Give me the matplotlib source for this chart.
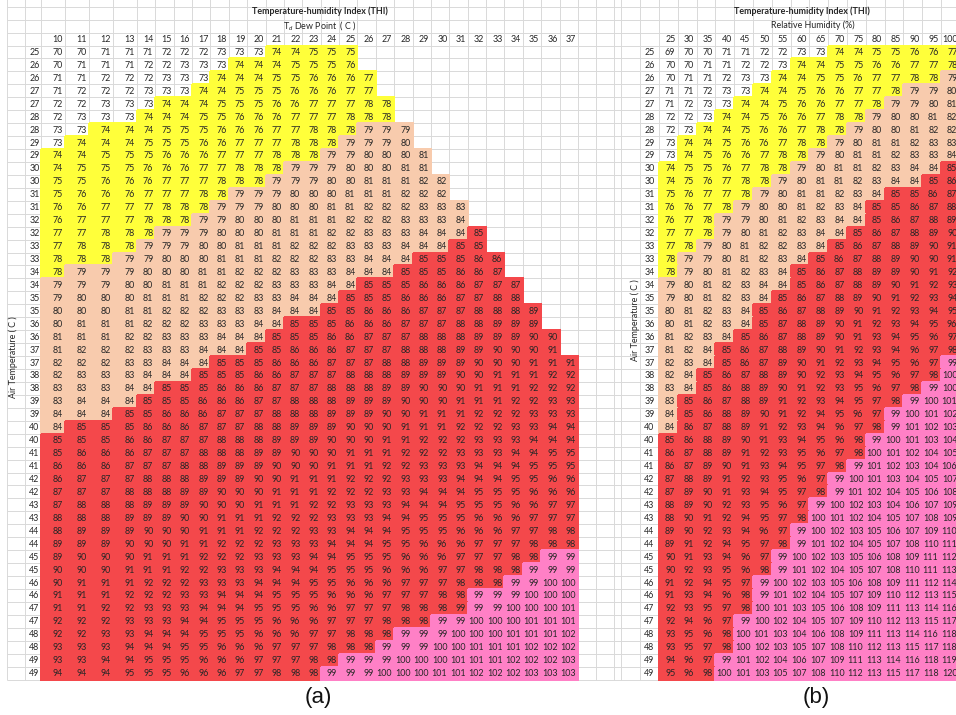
"""
Temperature-humidity index tables: (a) air temperature vs dew point,
(b) air temperature vs relative humidity, drawn as shaded spreadsheet grids.
"""
import numpy as np
import matplotlib
matplotlib.use('Agg')
import matplotlib.pyplot as plt
from matplotlib.colors import ListedColormap, BoundaryNorm

plt.rcParams['font.family'] = ['Lato', 'DejaVu Sans']
plt.rcParams['mathtext.fontset'] = 'custom'
plt.rcParams['mathtext.rm'] = 'Lato'
plt.rcParams['mathtext.it'] = 'Lato:italic'

# ---- data -------------------------------------------------------------
AIR_TEMP_LABELS = [25, 26, 26, 27, 27, 28, 28, 29, 29, 30, 30, 31, 31, 32, 32,
                   33, 33, 34, 34, 35, 35, 36, 36, 37, 37, 38, 38, 39, 39, 40,
                   40, 41, 41, 42, 42, 43, 43, 44, 44, 45, 45, 46, 46, 47, 47,
                   48, 48, 49, 49]
DEW_POINTS = [10, 11, 12, 13, 14, 15, 16, 17, 18, 19, 20, 21, 22, 23, 24, 25,
              26, 27, 28, 29, 30, 31, 32, 33, 34, 35, 36, 37]
REL_HUMIDITY = [25, 30, 35, 40, 45, 50, 55, 60, 65, 70, 75, 80, 85, 90, 95, 100]

# (a) THI by dew point, one string per table row (blank cells are left off)
THI_DEW = [
    "70 70 71 71 71 72 72 72 73 73 73 74 74 75 75 75",
    "70 71 71 71 72 72 73 73 73 74 74 74 75 75 75 76",
    "71 71 72 72 72 73 73 73 74 74 74 75 75 76 76 76 77",
    "71 72 72 72 73 73 73 74 74 75 75 75 76 76 76 77 77",
    "72 72 73 73 73 74 74 74 75 75 75 76 76 77 77 77 78 78",
    "72 73 73 73 74 74 74 75 75 76 76 76 77 77 77 78 78 78",
    "73 73 74 74 74 75 75 75 76 76 76 77 77 78 78 78 79 79 79",
    "73 74 74 74 75 75 75 76 76 77 77 77 78 78 78 79 79 79 80",
    "74 74 75 75 75 76 76 76 77 77 77 78 78 78 79 79 80 80 80 81",
    "74 75 75 75 76 76 76 77 77 78 78 78 79 79 79 80 80 80 81 81",
    "75 75 76 76 76 77 77 77 78 78 78 79 79 79 80 80 81 81 81 82 82",
    "75 76 76 76 77 77 77 78 78 79 79 79 80 80 80 81 81 81 82 82 82",
    "76 76 77 77 77 78 78 78 79 79 79 80 80 80 81 81 82 82 82 83 83 83",
    "76 77 77 77 78 78 78 79 79 80 80 80 81 81 81 82 82 82 83 83 83 84",
    "77 77 78 78 78 79 79 79 80 80 80 81 81 81 82 82 83 83 83 84 84 84 85",
    "77 78 78 78 79 79 79 80 80 81 81 81 82 82 82 83 83 83 84 84 84 85 85",
    "78 78 78 79 79 80 80 80 81 81 81 82 82 82 83 83 84 84 84 85 85 85 86 86",
    "78 79 79 79 80 80 80 81 81 82 82 82 83 83 83 84 84 84 85 85 85 86 86 87",
    "79 79 79 80 80 81 81 81 82 82 82 83 83 83 84 84 85 85 85 86 86 86 87 87 87",
    "79 80 80 80 81 81 81 82 82 82 83 83 84 84 84 85 85 85 86 86 86 87 87 88 88",
    "80 80 80 81 81 82 82 82 83 83 83 84 84 84 85 85 86 86 86 87 87 87 88 88 88 89",
    "80 81 81 81 82 82 82 83 83 83 84 84 85 85 85 86 86 86 87 87 87 88 88 89 89 89",
    "81 81 81 82 82 83 83 83 84 84 84 85 85 85 86 86 87 87 87 88 88 88 89 89 89 90 90",
    "81 82 82 82 83 83 83 84 84 84 85 85 86 86 86 87 87 87 88 88 88 89 89 90 90 90 91",
    "82 82 82 83 83 84 84 84 85 85 85 86 86 86 87 87 87 88 88 89 89 89 90 90 90 91 91 91",
    "82 83 83 83 84 84 84 85 85 85 86 86 87 87 87 88 88 88 89 89 89 90 90 91 91 91 92 92",
    "83 83 83 84 84 85 85 85 86 86 86 87 87 87 88 88 88 89 89 90 90 90 91 91 91 92 92 92",
    "83 84 84 84 85 85 85 86 86 86 87 87 88 88 88 89 89 89 90 90 90 91 91 91 92 92 93 93",
    "84 84 84 85 85 86 86 86 87 87 87 88 88 88 89 89 89 90 90 91 91 91 92 92 92 93 93 93",
    "84 85 85 85 86 86 86 87 87 87 88 88 89 89 89 90 90 90 91 91 91 92 92 92 93 93 94 94",
    "85 85 85 86 86 87 87 87 88 88 88 89 89 89 90 90 90 91 91 92 92 92 93 93 93 94 94 94",
    "85 86 86 86 87 87 87 88 88 88 89 89 90 90 90 91 91 91 92 92 92 93 93 93 94 94 95 95",
    "86 86 86 87 87 87 88 88 89 89 89 90 90 90 91 91 91 92 92 93 93 93 94 94 94 95 95 95",
    "86 87 87 87 88 88 88 89 89 89 90 90 91 91 91 92 92 92 93 93 93 94 94 94 95 95 96 96",
    "87 87 87 88 88 88 89 89 90 90 90 91 91 91 92 92 92 93 93 94 94 94 95 95 95 96 96 96",
    "87 88 88 88 89 89 89 90 90 90 91 91 91 92 92 93 93 93 94 94 94 95 95 95 96 96 97 97",
    "88 88 88 89 89 89 90 90 91 91 91 92 92 92 93 93 93 94 94 95 95 95 96 96 96 97 97 97",
    "88 89 89 89 90 90 90 91 91 91 92 92 92 93 93 94 94 94 95 95 95 96 96 96 97 97 98 98",
    "89 89 89 90 90 90 91 91 92 92 92 93 93 93 94 94 94 95 95 96 96 96 97 97 97 98 98 98",
    "89 90 90 90 91 91 91 92 92 92 93 93 93 94 94 95 95 95 96 96 96 97 97 97 98 98 99 99",
    "90 90 90 91 91 91 92 92 93 93 93 94 94 94 95 95 95 96 96 96 97 97 98 98 98 99 99 99",
    "90 91 91 91 92 92 92 93 93 93 94 94 94 95 95 96 96 96 97 97 97 98 98 98 99 99 100 100",
    "91 91 91 92 92 92 93 93 94 94 94 95 95 95 96 96 96 97 97 97 98 98 99 99 99 100 100 100",
    "91 91 92 92 93 93 93 94 94 94 95 95 95 96 96 97 97 97 98 98 98 99 99 99 100 100 100 101",
    "92 92 92 93 93 93 94 94 95 95 95 96 96 96 97 97 97 98 98 98 99 99 100 100 100 101 101 101",
    "92 92 93 93 94 94 94 95 95 95 96 96 96 97 97 98 98 98 99 99 99 100 100 100 101 101 101 102",
    "93 93 93 94 94 94 95 95 96 96 96 97 97 97 98 98 98 99 99 99 100 100 101 101 101 102 102 102",
    "93 93 94 94 95 95 95 96 96 96 97 97 97 98 98 99 99 99 100 100 100 101 101 101 102 102 102 103",
    "94 94 94 95 95 95 96 96 96 97 97 98 98 98 99 99 99 100 100 100 101 101 102 102 102 103 103 103",
]

# (b) THI by relative humidity
THI_RH = [
    "69 70 70 71 71 72 72 73 73 74 74 75 75 76 76 77",
    "70 70 71 71 72 72 73 74 74 75 75 76 76 77 77 78",
    "70 71 71 72 73 73 74 74 75 75 76 77 77 78 78 79",
    "71 71 72 73 73 74 74 75 76 76 77 77 78 79 79 80",
    "71 72 73 73 74 74 75 76 76 77 77 78 79 79 80 81",
    "72 72 73 74 74 75 76 76 77 78 78 79 80 80 81 82",
    "72 73 74 74 75 76 76 77 78 78 79 80 80 81 82 82",
    "73 74 74 75 76 76 77 78 78 79 80 81 81 82 83 83",
    "73 74 75 76 76 77 78 78 79 80 81 81 82 83 83 84",
    "74 75 75 76 77 78 78 79 80 81 81 82 83 84 84 85",
    "74 75 76 77 78 78 79 80 81 81 82 83 84 84 85 86",
    "75 76 77 77 78 79 80 81 81 82 83 84 85 85 86 87",
    "76 76 77 78 79 80 80 81 82 83 84 85 85 86 87 88",
    "76 77 78 79 79 80 81 82 83 84 84 85 86 87 88 89",
    "77 77 78 79 80 81 82 83 84 84 85 86 87 88 89 90",
    "77 78 79 80 81 82 82 83 84 85 86 87 88 89 90 91",
    "78 79 79 80 81 82 83 84 85 86 87 88 89 90 90 91",
    "78 79 80 81 82 83 84 85 86 87 88 89 89 90 91 92",
    "79 80 81 82 83 84 84 85 86 87 88 89 90 91 92 93",
    "79 80 81 82 83 84 85 86 87 88 89 90 91 92 93 94",
    "80 81 82 83 84 85 86 87 88 89 90 91 92 93 94 95",
    "80 81 82 83 84 85 87 88 89 90 91 92 93 94 95 96",
    "81 82 83 84 85 86 87 88 89 90 91 93 94 95 96 97",
    "81 82 84 85 86 87 88 89 90 91 92 93 94 96 97 98",
    "82 83 84 85 86 87 89 90 91 92 93 94 95 96 97 99",
    "82 84 85 86 87 88 89 90 92 93 94 95 96 97 98 100",
    "83 84 85 86 88 89 90 91 92 93 95 96 97 98 99 100",
    "83 85 86 87 88 89 91 92 93 94 95 97 98 99 100 101",
    "84 85 86 88 89 90 91 92 94 95 96 97 99 100 101 102",
    "84 86 87 88 89 91 92 93 94 96 97 98 99 101 102 103",
    "85 86 88 89 90 91 93 94 95 96 98 99 100 101 103 104",
    "86 87 88 89 91 92 93 95 96 97 98 100 101 102 104 105",
    "86 87 89 90 91 93 94 95 97 98 99 101 102 103 104 106",
    "87 88 89 91 92 93 95 96 97 99 100 101 103 104 105 107",
    "87 89 90 91 93 94 95 97 98 99 101 102 104 105 106 108",
    "88 89 90 92 93 95 96 97 99 100 102 103 104 106 107 109",
    "88 90 91 92 94 95 97 98 100 101 102 104 105 107 108 109",
    "89 90 92 93 94 96 97 99 100 102 103 105 106 107 109 110",
    "89 91 92 94 95 97 98 99 101 102 104 105 107 108 110 111",
    "90 91 93 94 96 97 99 100 102 103 105 106 108 109 111 112",
    "90 92 93 95 96 98 99 101 102 104 105 107 108 110 111 113",
    "91 92 94 95 97 99 100 102 103 105 106 108 109 111 112 114",
    "91 93 94 96 98 99 101 102 104 105 107 109 110 112 113 115",
    "92 93 95 97 98 100 101 103 105 106 108 109 111 113 114 116",
    "92 94 96 97 99 100 102 104 105 107 109 110 112 113 115 117",
    "93 95 96 98 100 101 103 104 106 108 109 111 113 114 116 118",
    "93 95 97 98 100 102 103 105 107 108 110 112 113 115 117 118",
    "94 96 97 99 101 102 104 106 107 109 111 113 114 116 118 119",
    "95 96 98 100 101 103 105 107 108 110 112 113 115 117 118 120",
]

# cells of (a) the source sheet leaves in the red band although they read 99
# (row index, dew point)
RED_99_CELLS = [(43, 31)]

# THI bands of the conditional fill
BAND_EDGES = [0, 73.5, 78.5, 84.5, 98.5, 200]
BAND_COLORS = [(1, 1, 1, 0), '#FFFF3A', '#F8CBAD', '#F4484B', '#FF80C6']

# ---- layout (pixels of the 956x715 sheet screenshot) -----------------
W, H = 956, 715
ROW_TOP = 45.5
ROW_H = 12.94
A_EDGES = [41, 65, 89, 113, 137] + [137 + 18.375 * k for k in range(1, 25)]
B_LEFT, B_COLW = 659, 18.8
B_EDGES = [B_LEFT + B_COLW * k for k in range(17)]
SPLIT = 614

FS = 6.4
TXT = '#262626'
GRID = '#D9D9D9'


def to_matrix(rows, ncols):
    m = np.full((len(rows), ncols), np.nan)
    for i, r in enumerate(rows):
        vals = [float(v) for v in r.split()]
        m[i, :len(vals)] = vals
    return m


def draw_table(ax, x_edges, values, shade, col_labels, label_right, pad):
    n_rows = values.shape[0]
    y_edges = [ROW_TOP + ROW_H * k for k in range(n_rows + 1)]
    cmap = ListedColormap(BAND_COLORS)
    norm = BoundaryNorm(BAND_EDGES, cmap.N)
    ax.pcolormesh(x_edges, y_edges, np.ma.masked_invalid(shade), cmap=cmap,
                  norm=norm, shading='flat', antialiased=False,
                  edgecolors='face', linewidth=0.3, zorder=2)
    hdr_y = ROW_TOP - ROW_H / 2
    for j, lab in enumerate(col_labels):
        ax.text(x_edges[j + 1] - pad, hdr_y + 0.5, str(lab), ha='right',
                va='center', fontsize=FS, color=TXT, zorder=3)
    for i in range(n_rows):
        yc = ROW_TOP + ROW_H * (i + 0.5) + 0.5
        ax.text(label_right, yc, str(AIR_TEMP_LABELS[i]), ha='right',
                va='center', fontsize=FS, color=TXT, zorder=3)
        for j in range(values.shape[1]):
            v = values[i, j]
            if np.isnan(v):
                continue
            ax.text(x_edges[j + 1] - pad, yc, f'{v:.0f}', ha='right',
                    va='center', fontsize=FS, color=TXT, zorder=3)


def main():
    fig = plt.figure(figsize=(W / 100, H / 100), dpi=100)
    ax = fig.add_axes([0, 0, 1, 1])
    ax.set_xlim(0, W)
    ax.set_ylim(H, 0)
    ax.axis('off')

    # spreadsheet gridlines
    bottom = ROW_TOP + ROW_H * len(AIR_TEMP_LABELS)
    h_lines = [ROW_TOP + ROW_H * k for k in range(-4, len(AIR_TEMP_LABELS) + 1)]
    ax.hlines(h_lines, 7, W, color=GRID, linewidth=0.7, zorder=1)
    a_extra = [7, 25, A_EDGES[-1] + 18.4, SPLIT]
    b_extra = [B_LEFT - 2 * B_COLW, B_LEFT - B_COLW]
    ax.vlines(A_EDGES + a_extra + b_extra + B_EDGES, -1, bottom,
              color=GRID, linewidth=0.7, zorder=1)

    thi_a = to_matrix(THI_DEW, len(DEW_POINTS))
    shade_a = thi_a.copy()
    for r, td in RED_99_CELLS:
        shade_a[r, DEW_POINTS.index(td)] = 98
    thi_b = to_matrix(THI_RH, len(REL_HUMIDITY))

    draw_table(ax, A_EDGES, thi_a, shade_a, DEW_POINTS, 39.5, 2)
    draw_table(ax, B_EDGES, thi_b, thi_b, REL_HUMIDITY, B_LEFT - 4.5, 2.5)

    # titles
    title = 'Temperature-humidity Index (THI)'
    ax.text(320, 11.5, title, ha='center', va='center', fontsize=FS,
            fontweight='bold', color=TXT, zorder=3)
    ax.text(320, 25, r'T$_{d}$ Dew Point  ( C )', ha='center', va='center',
            fontsize=FS, color=TXT, zorder=3)
    ax.text(802, 11.5, title, ha='center', va='center', fontsize=FS,
            fontweight='bold', color=TXT, zorder=3)
    ax.text(813, 25, 'Relative Humidity (%)', ha='center', va='center',
            fontsize=FS, color=TXT, zorder=3)

    for x, y in [(13, 357), (635, 320)]:
        ax.text(x, y, 'Air Temperature ( C )', rotation=90, ha='center',
                va='center', fontsize=FS, color=TXT, zorder=3)

    for x, lab in [(318, '(a)'), (816, '(b)')]:
        ax.text(x, 698, lab, ha='center', va='center', fontsize=16,
                family=['Liberation Sans', 'DejaVu Sans'], color='#111111')

    fig.savefig('out.png', dpi=100)
    plt.close(fig)


if __name__ == '__main__':
    main()
